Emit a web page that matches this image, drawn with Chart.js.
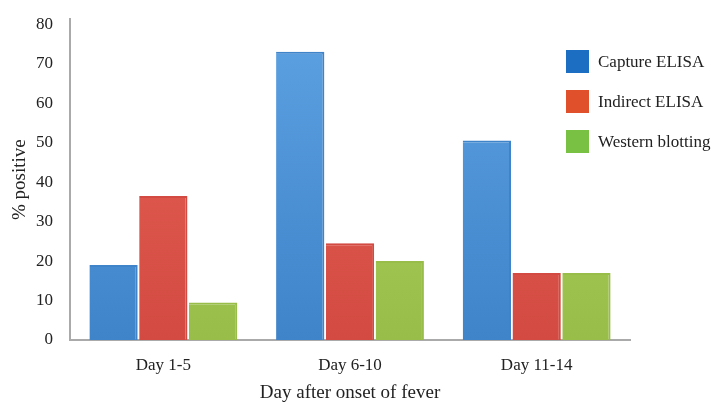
<!DOCTYPE html>
<html>
<head>
<meta charset="utf-8">
<script src="https://cdn.jsdelivr.net/npm/chart.js@4.4.1/dist/chart.umd.min.js"></script>
<style>
  html, body { margin: 0; padding: 0; background: #fff; }
  #wrap { position: relative; width: 715px; height: 404px; }
  canvas { display: block; }
  #legend { position: absolute; left: 566px; top: 50px; font-family: "Liberation Serif", serif; font-size: 17px; color: #222; }
  .item { display: flex; align-items: center; height: 23px; margin-bottom: 17px; white-space: nowrap; }
  .sw { width: 23px; height: 23px; margin-right: 9px; flex: none; }
</style>
</head>
<body>
<div id="wrap">
  <canvas id="c" width="715" height="404"></canvas>
  <div id="legend"></div>
</div>
<script>
const categories = ["Day 1-5", "Day 6-10", "Day 11-14"];
const seriesNames = ["Capture ELISA", "Indirect ELISA", "Western blotting"];
const captureElisa = [19, 73, 50.5];
const indirectElisa = [36.5, 24.5, 17];
const westernBlotting = [9.5, 20, 17];
const yTicks = [0, 10, 20, 30, 40, 50, 60, 70, 80];

const legendColors = ["#1b6ec2", "#e0502a", "#78c142"];
const barTop = ["#5da2e2", "#ea6459", "#b4d666"];
const barBottom = ["#3f83c9", "#d24a41", "#98bd48"];

function grad(i) {
  return function(ctx) {
    const chart = ctx.chart;
    const area = chart.chartArea;
    if (!area) return barTop[i];
    const g = chart.ctx.createLinearGradient(0, area.top, 0, area.bottom);
    g.addColorStop(0, barTop[i]);
    g.addColorStop(1, barBottom[i]);
    return g;
  };
}

const dataSets = [captureElisa, indirectElisa, westernBlotting].map((d, i) => ({
  label: seriesNames[i],
  data: d,
  backgroundColor: grad(i),
  borderColor: barBottom[i],
  borderWidth: { top: 2, right: 2, left: 0, bottom: 0 },
  categoryPercentage: 0.8,
  barPercentage: 0.97
}));

new Chart(document.getElementById("c"), {
  type: "bar",
  data: { labels: categories, datasets: dataSets },
  options: {
    responsive: false,
    animation: false,
    layout: { padding: { left: 0, right: 85, top: 15, bottom: 0 } },
    plugins: { legend: { display: false }, tooltip: { enabled: false } },
    scales: {
      x: {
        grid: { display: false },
        border: { display: true, color: "#aaa", width: 2 },
        ticks: { color: "#222", font: { family: "Liberation Serif", size: 17 }, padding: 7 },
        title: { display: true, text: "Day after onset of fever", color: "#222",
                 font: { family: "Liberation Serif", size: 19 }, padding: { top: 5, bottom: 0 } },
        afterFit: s => { s.height = 64; }
      },
      y: {
        min: 0, max: 81.25,
        grid: { display: false },
        border: { display: true, color: "#aaa", width: 2 },
        afterBuildTicks: s => { s.ticks = yTicks.map(v => ({ value: v })); },
        ticks: { color: "#222", font: { family: "Liberation Serif", size: 17 }, padding: 9, includeBounds: false },
        title: { display: true, text: "% positive", color: "#222",
                 font: { family: "Liberation Serif", size: 19 }, padding: { top: 9, bottom: 0 } },
        afterFit: s => { s.width = 70; }
      }
    }
  }
});

const lg = document.getElementById("legend");
seriesNames.forEach((n, i) => {
  const it = document.createElement("div");
  it.className = "item";
  it.innerHTML = '<div class="sw" style="background:' + legendColors[i] + '"></div><span>' + n + '</span>';
  lg.appendChild(it);
});
</script>
</body>
</html>
